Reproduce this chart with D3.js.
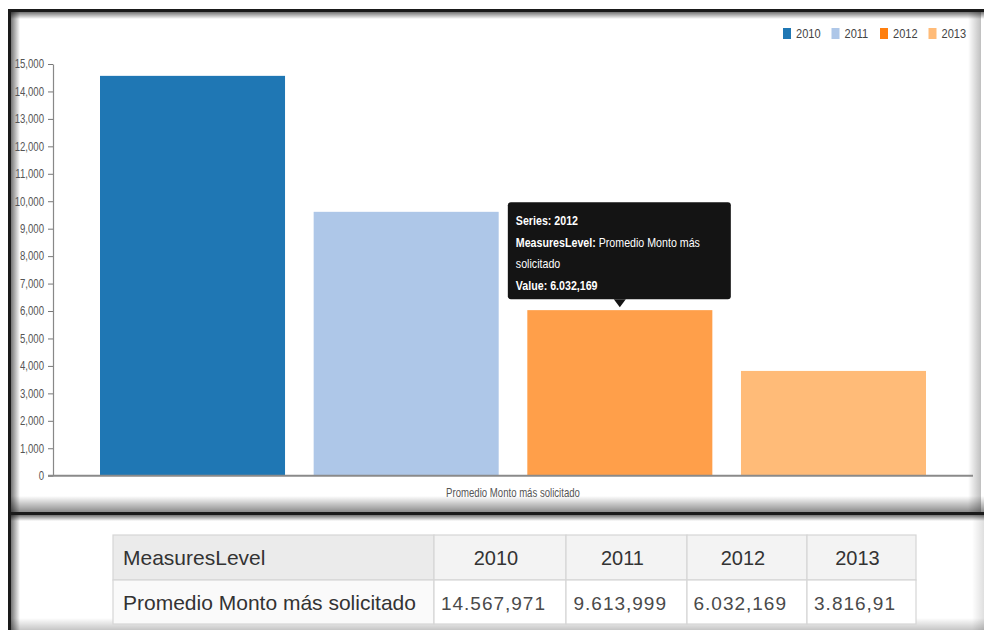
<!DOCTYPE html>
<html>
<head>
<meta charset="utf-8">
<script src="https://cdn.jsdelivr.net/npm/d3@7/dist/d3.min.js"></script>
<style>
  html, body { margin: 0; padding: 0; background: #fff; }
  svg { display: block; }
  svg text { font-family: "Liberation Sans", Arial, sans-serif; }
</style>
</head>
<body>
<svg id="chart" width="984" height="630"></svg>
<script>
// ---- data ----
const measure = "Promedio Monto más solicitado";
const measureHeader = "MeasuresLevel";
const years = ["2010", "2011", "2012", "2013"];
const values = [14567.971, 9613.999, 6032.169, 3816.91];
const colors = ["#1f77b4", "#aec7e8", "#ff7f0e", "#ffbb78"];
const yTicks = [0, 1000, 2000, 3000, 4000, 5000, 6000, 7000, 8000, 9000, 10000, 11000, 12000, 13000, 14000, 15000];
const hovered = "2012";

const W = 984, H = 630;
const K = 0.8; // horizontal squeeze for the chart's condensed lettering
const svg = d3.select("#chart");
const defs = svg.append("defs");

// Spanish number format used in the table and tooltip
const es = d3.formatLocale({ decimal: ",", thousands: ".", grouping: [3], currency: ["", ""] });
const fmtEs = es.format(",.3~f");
const fmtTick = d3.format(",.0f");

// place a condensed text at a given x (in its parent's coordinates)
function condense(sel, xPos, k = K) {
  sel.attr("x", xPos / k).attr("transform", `scale(${k},1)`);
}

svg.append("rect").attr("width", W).attr("height", H).attr("fill", "#fff");

// ---- window frame shading ----
function grad(id, x1, y1, x2, y2, stops) {
  const g = defs.append("linearGradient").attr("id", id)
    .attr("x1", x1).attr("y1", y1).attr("x2", x2).attr("y2", y2);
  stops.forEach(s => g.append("stop").attr("offset", s[0]).attr("stop-color", s[1]).attr("stop-opacity", s[2]));
}
grad("gDown", 0, 0, 0, 1, [[0, "#000", 0.55], [1, "#000", 0]]);
grad("gUp", 0, 1, 0, 0, [[0, "#000", 0.45], [1, "#000", 0]]);
grad("gRight", 0, 0, 1, 0, [[0, "#000", 0.6], [1, "#000", 0]]);
grad("gLeft", 1, 0, 0, 0, [[0, "#000", 0.25], [1, "#000", 0]]);

const frame = svg.append("g");
// upper panel
frame.append("rect").attr("x", 10).attr("y", 12).attr("width", W - 10).attr("height", 7).attr("fill", "url(#gDown)");
frame.append("rect").attr("x", 10).attr("y", 496).attr("width", W - 10).attr("height", 16).attr("fill", "url(#gUp)");
frame.append("rect").attr("x", 968).attr("y", 12).attr("width", 13).attr("height", 500).attr("fill", "url(#gLeft)");
// lower panel
frame.append("rect").attr("x", 10).attr("y", 515).attr("width", W - 10).attr("height", 6).attr("fill", "url(#gDown)");
frame.append("rect").attr("x", 10).attr("y", 618).attr("width", W - 10).attr("height", 12).attr("fill", "url(#gUp)").attr("opacity", 0.5);
frame.append("rect").attr("x", 972).attr("y", 515).attr("width", 12).attr("height", 115).attr("fill", "url(#gLeft)").attr("opacity", 0.5);
// left shadow
frame.append("rect").attr("x", 10).attr("y", 10).attr("width", 10).attr("height", H - 10).attr("fill", "url(#gRight)");
// dark edges
frame.append("rect").attr("x", 8).attr("y", 9).attr("width", W - 8).attr("height", 3).attr("fill", "#1a1a1a");
frame.append("rect").attr("x", 8).attr("y", 9).attr("width", 3).attr("height", H - 9).attr("fill", "#1a1a1a");
frame.append("rect").attr("x", 8).attr("y", 512).attr("width", W - 8).attr("height", 3).attr("fill", "#1a1a1a");

// ---- bar chart ----
const x = d3.scaleBand().domain(years).range([53, 973]).paddingInner(0.134).paddingOuter(0.22);
const y = d3.scaleLinear().domain([0, 15000]).range([475.7, 64]);

const plot = svg.append("g");

plot.selectAll("rect.bar")
  .data(years.map((yr, i) => ({ yr, v: values[i], c: colors[i] })))
  .join("rect")
  .attr("class", "bar")
  .attr("x", d => x(d.yr))
  .attr("y", d => y(d.v))
  .attr("width", x.bandwidth())
  .attr("height", d => y(0) - y(d.v))
  .attr("fill", d => d.c)
  .attr("fill-opacity", d => d.yr === hovered ? 0.75 : 1);

// y axis
const yAxis = plot.append("g")
  .attr("transform", "translate(53,0)")
  .call(d3.axisLeft(y).tickValues(yTicks).tickFormat(fmtTick).tickSize(5).tickSizeOuter(0).tickPadding(3));
yAxis.select(".domain").attr("stroke", "#888").attr("stroke-width", 1.2);
yAxis.selectAll(".tick line").attr("stroke", "#777");
yAxis.selectAll(".tick text")
  .attr("fill", "#555").attr("font-size", 12)
  .attr("font-family", "'Liberation Sans', Arial, sans-serif")
  .each(function () { condense(d3.select(this), -9); });

// x axis line
plot.append("line")
  .attr("x1", 48).attr("x2", 973)
  .attr("y1", y(0)).attr("y2", y(0))
  .attr("stroke", "#8a8a8a").attr("stroke-width", 2);

// x axis label
const xLabel = plot.append("text")
  .attr("y", 497)
  .attr("text-anchor", "middle")
  .attr("font-size", 12)
  .attr("fill", "#555")
  .text(measure);
condense(xLabel, (x(years[0]) + x(years[years.length - 1]) + x.bandwidth()) / 2);

// legend
const legend = svg.append("g");
const legStep = 48.5;
const legItems = legend.selectAll("g")
  .data(years.map((yr, i) => ({ yr, c: colors[i] })))
  .join("g")
  .attr("transform", (d, i) => `translate(${783 + i * legStep},28)`);
legItems.append("rect").attr("width", 8).attr("height", 11).attr("fill", d => d.c);
legItems.append("text").attr("y", 10).attr("font-size", 13).attr("fill", "#444").text(d => d.yr)
  .each(function () { condense(d3.select(this), 13, 0.85); });

// tooltip for the hovered bar
const hi = years.indexOf(hovered);
const tipX = x(hovered) + x.bandwidth() / 2;
const tipY = y(values[hi]) - 3;
const boxW = 223, boxH = 97;
const bx = tipX - 112, by = tipY - 8 - boxH;
const tip = svg.append("g");
tip.append("rect").attr("x", bx).attr("y", by).attr("width", boxW).attr("height", boxH)
  .attr("rx", 3).attr("fill", "#141414");
tip.append("path")
  .attr("d", `M${tipX - 6},${by + boxH} L${tipX},${tipY} L${tipX + 6},${by + boxH} Z`)
  .attr("fill", "#141414");
const tipLines = [
  [["Series: ", true], [hovered, true]],
  [["MeasuresLevel: ", true], ["Promedio Monto más", false]],
  [["solicitado", false]],
  [["Value: ", true], [fmtEs(values[hi]), true]]
];
tipLines.forEach((parts, li) => {
  const t = tip.append("text").attr("y", by + 23 + li * 21.5)
    .attr("font-size", 13).attr("fill", "#fff");
  condense(t, bx + 8, 0.82);
  parts.forEach(p => t.append("tspan").attr("font-weight", p[1] ? "bold" : "normal").text(p[0]));
});

// ---- data table ----
const colEdges = [113, 434, 566, 687, 807, 916];
const rowEdges = [535, 580, 624];
const table = svg.append("g");
const headerRow = [measureHeader].concat(years);
const dataRow = [measure].concat(values.map(fmtEs));

[headerRow, dataRow].forEach((row, r) => {
  row.forEach((cell, c) => {
    const x0 = colEdges[c], x1 = colEdges[c + 1];
    const y0 = rowEdges[r], y1 = rowEdges[r + 1];
    const fill = r === 0 ? (c === 0 ? "#ebebeb" : "#f3f3f3") : (c === 0 ? "#fafafa" : "#fff");
    table.append("rect").attr("x", x0).attr("y", y0).attr("width", x1 - x0).attr("height", y1 - y0)
      .attr("fill", fill).attr("stroke", "#d6d6d6").attr("stroke-width", 1.2);
    const t = table.append("text").attr("y", y0 + 30).attr("font-size", 21).text(cell);
    if (c === 0) {
      t.attr("x", x0 + 10).attr("fill", "#333");
    } else if (r === 0) {
      t.attr("x", (x0 + x1) / 2 - 4).attr("text-anchor", "middle").attr("fill", "#333").attr("font-size", 20);
    } else {
      t.attr("x", x1 - 20).attr("text-anchor", "end").attr("fill", "#4a4a4a").attr("font-size", 19).attr("letter-spacing", 1);
    }
  });
});
</script>
</body>
</html>
